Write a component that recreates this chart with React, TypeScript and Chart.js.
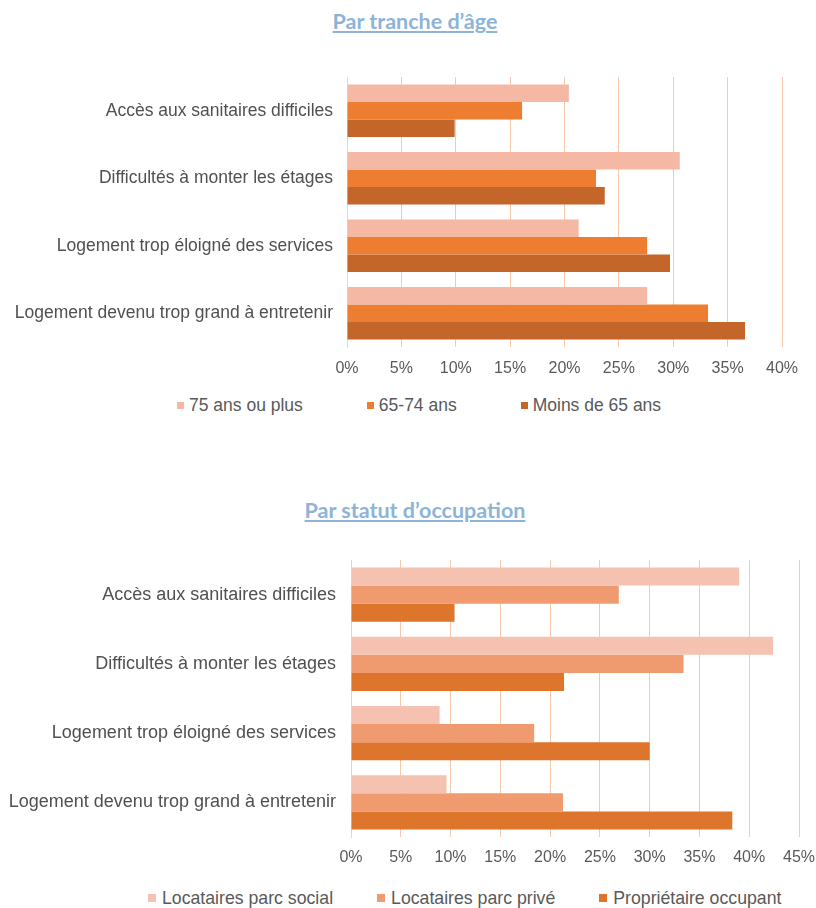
import React, { useEffect, useRef } from "react";
import { Chart, registerables } from "chart.js";

Chart.register(...registerables);

// ---------- data ----------
const categories = [
  "Accès aux sanitaires difficiles",
  "Difficultés à monter les étages",
  "Logement trop éloigné des services",
  "Logement devenu trop grand à entretenir",
];

const ageTitle = "Par tranche d’âge";
const ageSeriesNames = ["75 ans ou plus", "65-74 ans", "Moins de 65 ans"];
const age75Plus = [20.4, 30.6, 21.3, 27.6];
const age65To74 = [16.1, 22.9, 27.6, 33.2];
const ageUnder65 = [9.9, 23.7, 29.7, 36.6];
const ageColors = ["#F4B8A4", "#ED7D31", "#C46529"];
const ageAxisMax = 40;

const statusTitle = "Par statut d’occupation";
const statusSeriesNames = ["Locataires parc social", "Locataires parc privé", "Propriétaire occupant"];
const statusSocial = [39.0, 42.4, 8.9, 9.6];
const statusPrive = [26.9, 33.4, 18.4, 21.3];
const statusProprio = [10.4, 21.4, 30.0, 38.3];
const statusColors = ["#F5C2B1", "#F09A70", "#DE752D"];
const statusAxisMax = 45;

const tickStep = 5;

const FONT = "'Liberation Sans', Arial, sans-serif";

type BarProps = {
  series: number[][];
  names: string[];
  colors: string[];
  max: number;
  top: number;
  height: number;
  padTop: number;
  padRight: number;
  yWidth: number;
  xHeight: number;
  tickPad: number;
  catFont: number;
  catPad: number;
};

function BarChart(p: BarProps) {
  const ref = useRef<HTMLCanvasElement | null>(null);
  useEffect(() => {
    if (!ref.current) return;
    const chart = new Chart(ref.current, {
      type: "bar",
      data: {
        labels: categories,
        datasets: p.series.map((d, i) => ({
          label: p.names[i],
          data: d,
          backgroundColor: p.colors[i],
          borderWidth: 0,
          categoryPercentage: 0.78,
          barPercentage: 1.0,
        })),
      },
      options: {
        indexAxis: "y",
        responsive: false,
        animation: false,
        layout: { padding: { top: p.padTop, right: p.padRight, left: 0, bottom: 0 } },
        plugins: { legend: { display: false }, tooltip: { enabled: false }, title: { display: false } },
        scales: {
          x: {
            min: 0,
            max: p.max,
            ticks: {
              stepSize: tickStep,
              callback: (v: any) => `${v}%`,
              color: "#595959",
              font: { family: FONT, size: 16 },
              padding: p.tickPad,
              maxRotation: 0,
            },
            grid: {
              drawTicks: false,
              color: (ctx: any) => (ctx.tick && ctx.tick.value === 0 ? "rgba(0,0,0,0)" : "#F8C8A8"),
              lineWidth: 1,
            },
            border: { display: false },
            afterFit: (scale: any) => {
              scale.height = p.xHeight;
              scale.paddingLeft = 0;
              scale.paddingRight = 0;
            },
          },
          y: {
            ticks: {
              color: "#505050",
              font: { family: FONT, size: p.catFont },
              padding: p.catPad,
              autoSkip: false,
            },
            grid: { display: false, drawTicks: false },
            border: { display: true, color: "#D9D9D9", width: 1 },
            afterFit: (scale: any) => {
              scale.width = p.yWidth;
              scale.paddingTop = 0;
              scale.paddingBottom = 0;
            },
          },
        },
      },
    });
    return () => chart.destroy();
  }, []);
  return (
    <canvas
      ref={ref}
      width={816}
      height={p.height}
      style={{ position: "absolute", left: 0, top: p.top, width: 816, height: p.height }}
    />
  );
}

type LegendProps = {
  names: string[];
  colors: string[];
  left: number;
  top: number;
  gap: number;
  box: number;
  boxGap: number;
  size: number;
};

function Legend(p: LegendProps) {
  return (
    <div
      style={{
        position: "absolute",
        left: p.left,
        top: p.top,
        display: "flex",
        alignItems: "center",
        whiteSpace: "nowrap",
        fontFamily: FONT,
        fontSize: p.size,
        color: "#595959",
        lineHeight: "20px",
      }}
    >
      {p.names.map((n, i) => (
        <div key={n} style={{ display: "flex", alignItems: "center", marginRight: i < p.names.length - 1 ? p.gap : 0 }}>
          <span style={{ display: "inline-block", width: p.box, height: p.box, background: p.colors[i], marginRight: p.boxGap }} />
          <span>{n}</span>
        </div>
      ))}
    </div>
  );
}

function Title({ text, top }: { text: string; top: number }) {
  return (
    <div
      style={{
        position: "absolute",
        left: 0,
        width: 830,
        top,
        textAlign: "center",
        fontFamily: "Lato, 'Open Sans', sans-serif",
        fontWeight: 700,
        fontSize: 21.5,
        lineHeight: "20px",
        color: "#8DB3D8",
        textDecoration: "underline",
        textUnderlineOffset: "2px",
      }}
    >
      {text}
    </div>
  );
}

export default function App() {
  return (
    <div style={{ position: "absolute", left: 0, top: 0, width: 816, height: 908, background: "#fff", overflow: "hidden" }}>
      <Title text={ageTitle} top={11} />
      <BarChart
        series={[age75Plus, age65To74, ageUnder65]}
        names={ageSeriesNames}
        colors={ageColors}
        max={ageAxisMax}
        top={50}
        height={335}
        padTop={27}
        padRight={34}
        yWidth={347}
        xHeight={38}
        tickPad={12}
        catFont={17.5}
        catPad={14}
      />
      <Legend names={ageSeriesNames} colors={ageColors} left={177} top={395} gap={64} box={7} boxGap={5} size={17.5} />

      <Title text={statusTitle} top={500} />
      <BarChart
        series={[statusSocial, statusPrive, statusProprio]}
        names={statusSeriesNames}
        colors={statusColors}
        max={statusAxisMax}
        top={540}
        height={340}
        padTop={20}
        padRight={17}
        yWidth={351}
        xHeight={43}
        tickPad={11}
        catFont={18}
        catPad={15}
      />
      <Legend names={statusSeriesNames} colors={statusColors} left={148} top={888} gap={44} box={8} boxGap={6} size={17.7} />
    </div>
  );
}
